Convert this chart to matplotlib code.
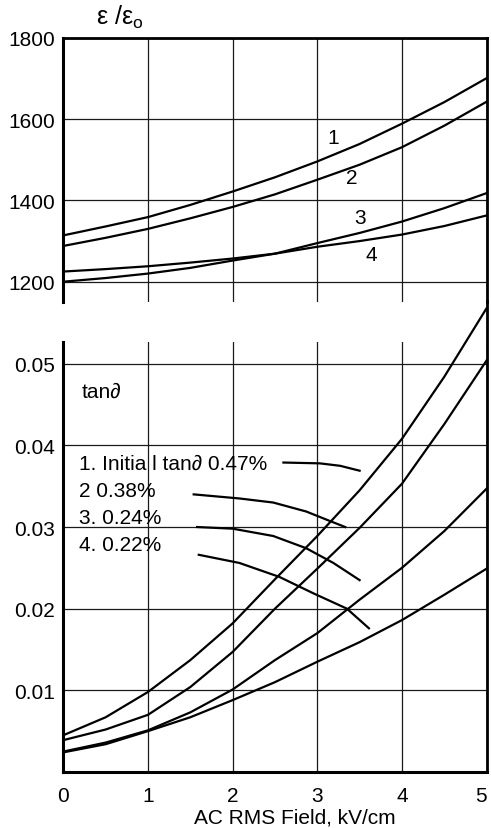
import matplotlib
matplotlib.use('Agg')
import matplotlib.pyplot as plt

plt.rcParams['font.family'] = ['Liberation Sans', 'DejaVu Sans']
plt.rcParams['mathtext.fontset'] = 'custom'
plt.rcParams['mathtext.rm'] = 'Liberation Sans'

# AC RMS field, kV/cm
field = [0, 0.5, 1, 1.5, 2, 2.5, 3, 3.5, 4, 4.5, 5]

# relative permittivity e/e0
eps_1 = [1314, 1336, 1359, 1389, 1422, 1457, 1496, 1539, 1589, 1642, 1701]
eps_2 = [1288, 1308, 1330, 1356, 1384, 1415, 1451, 1488, 1531, 1584, 1643]
eps_3 = [1200, 1209, 1220, 1234, 1252, 1269, 1295, 1320, 1348, 1381, 1418]
eps_4 = [1225, 1231, 1238, 1247, 1257, 1269, 1286, 1300, 1316, 1337, 1363]
eps_curves = [eps_1, eps_2, eps_3, eps_4]
eps_names = ['1', '2', '3', '4']
eps_name_x = [3.19, 3.41, 3.50, 3.64]
eps_name_y = [1554, 1457, 1359, 1266]

# loss tangent
tan_1 = [0.0045, 0.0067, 0.0098, 0.0137, 0.0182, 0.0236, 0.0289, 0.0345, 0.0408, 0.0484, 0.0568]
tan_2 = [0.0039, 0.0052, 0.0070, 0.0104, 0.0147, 0.0200, 0.0249, 0.0299, 0.0353, 0.0426, 0.0504]
tan_3 = [0.0025, 0.0036, 0.0051, 0.0073, 0.0101, 0.0137, 0.0170, 0.0211, 0.0250, 0.0295, 0.0347]
tan_4 = [0.0024, 0.0034, 0.0050, 0.0067, 0.0088, 0.0110, 0.0135, 0.0159, 0.0186, 0.0217, 0.0249]
tan_curves = [tan_1, tan_2, tan_3, tan_4]

# leader lines from the legend text to the curves
lead_1_x = [2.60, 3.03, 3.27, 3.50]
lead_1_y = [0.0379, 0.0378, 0.0375, 0.0369]
lead_2_x = [1.54, 2.08, 2.48, 2.87, 3.11, 3.33]
lead_2_y = [0.0340, 0.0335, 0.0330, 0.0319, 0.0309, 0.0300]
lead_3_x = [1.58, 2.00, 2.48, 2.87, 3.19, 3.50]
lead_3_y = [0.0300, 0.0298, 0.0289, 0.0274, 0.0256, 0.0235]
lead_4_x = [1.60, 2.08, 2.55, 2.95, 3.35, 3.61]
lead_4_y = [0.0266, 0.0256, 0.0239, 0.0219, 0.0200, 0.0176]
leads = [(lead_1_x, lead_1_y), (lead_2_x, lead_2_y), (lead_3_x, lead_3_y), (lead_4_x, lead_4_y)]

legend_text = ['1. Initia l tan\u2202 0.47%', '2 0.38%', '3. 0.24%', '4. 0.22%']
legend_y = [0.0378, 0.0345, 0.0312, 0.0279]

fs = 15
lw = 1.6

fig = plt.figure(figsize=(4.91, 8.29), dpi=100)
ax1 = fig.add_axes([0.129, 0.6345, 0.862, 0.3185])
ax2 = fig.add_axes([0.129, 0.0676, 0.862, 0.519])

# ---- top panel: permittivity
for curve in eps_curves:
    ax1.plot(field, curve, color='black', lw=lw)
for name, nx, ny in zip(eps_names, eps_name_x, eps_name_y):
    ax1.text(nx, ny, name, fontsize=fs, ha='center', va='center')

ax1.set_xlim(0, 5)
ax1.set_ylim(1150, 1800)
ax1.set_xticks([0, 1, 2, 3, 4, 5])
ax1.set_yticks([1200, 1400, 1600, 1800])
ax1.tick_params(axis='x', length=0, labelbottom=False)
ax1.tick_params(axis='y', length=0, labelsize=fs, pad=6)
ax1.grid(True, color='#1a1a1a', lw=0.9)
ax1.spines['bottom'].set_visible(False)
ax1.spines['left'].set_linewidth(2.2)
ax1.spines['top'].set_linewidth(2.0)
ax1.spines['right'].set_linewidth(2.0)
ax1.text(0.077, 1.03, '\u03b5 /\u03b5$_\\mathregular{o}$', transform=ax1.transAxes,
         fontsize=18, ha='left', va='bottom')

# ---- bottom panel: loss tangent
for curve in tan_curves:
    ax2.plot(field, curve, color='black', lw=lw, clip_on=False)
for lx, ly in leads:
    ax2.plot(lx, ly, color='black', lw=lw)

ax2.text(0.22, 0.0466, 'tan\u2202', fontsize=fs, ha='left', va='center')
for txt, ty in zip(legend_text, legend_y):
    ax2.text(0.185, ty, txt, fontsize=fs, ha='left', va='center')

ax2.set_xlim(0, 5)
ax2.set_ylim(0, 0.0527)
ax2.set_xticks([0, 1, 2, 3, 4, 5])
ax2.set_yticks([0.01, 0.02, 0.03, 0.04, 0.05])
ax2.set_yticklabels(['0.01', '0.02', '0.03', '0.04', '0.05'])
ax2.tick_params(axis='x', length=0, labelsize=fs, pad=10)
ax2.tick_params(axis='y', length=0, labelsize=fs, pad=6)
ax2.get_xticklabels()[-1].set_horizontalalignment('right')
ax2.grid(True, color='#1a1a1a', lw=0.9)
ax2.spines['top'].set_visible(False)
ax2.spines['left'].set_linewidth(2.2)
ax2.spines['bottom'].set_linewidth(2.2)
ax2.spines['right'].set_linewidth(2.0)
ax2.spines['right'].set_bounds(0, 0.0577)
ax2.set_xlabel('AC RMS Field, kV/cm', fontsize=fs, labelpad=2, x=0.547)

fig.savefig('out.png', dpi=100)
